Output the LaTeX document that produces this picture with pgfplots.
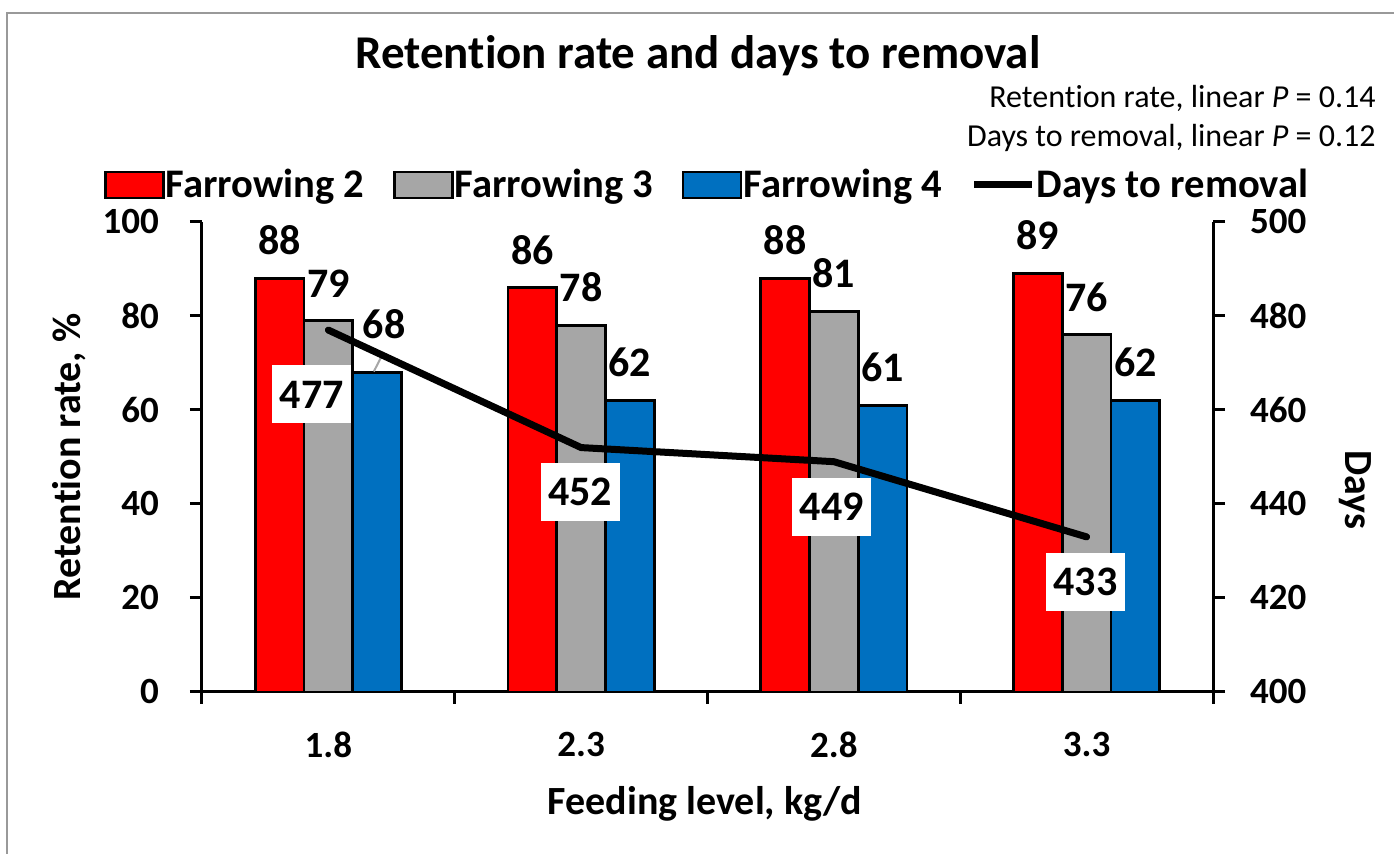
\documentclass[border=0pt]{standalone}
\usepackage{fontspec}
\setmainfont{Carlito}[Ligatures=NoCommon]
\usepackage{pgfplots}
\pgfplotsset{compat=1.18}
\usepackage{pgfplotstable}

\pgfplotstableread{
x f2 f3 f4 dxf dyf
0 88 79 68 3.5 5
1 86 78 62 0 0
2 88 81 61 0 0
3 89 76 62 0 0
}\retention

\pgfplotstableread{
x days dx dy
0 477 -8.3 -32.2
1 452 -0.5 -22
2 449 -1 -22.5
3 433 -0.5 -22.5
}\daystab

\definecolor{fred}{HTML}{FF0000}
\definecolor{fgray}{HTML}{A6A6A6}
\definecolor{fblue}{HTML}{0070C0}

\newcommand{\tfont}{\bfseries\fontsize{18.5}{22}\selectfont}
\newcommand{\dfont}{\bfseries\fontsize{21}{25}\selectfont}
\newcommand{\lfont}{\bfseries\fontsize{20.3}{24}\selectfont}

\pgfplotsset{
  barlegend/.style={legend image code/.code={\draw[##1, line width=1.4pt] (0pt,-6.5pt) rectangle (29pt,6.5pt);}},
  linelegend/.style={legend image code/.code={\draw[##1] (0pt,0pt) -- (29pt,0pt);}},
  common/.style={
    at={(101pt,81pt)}, anchor=south west, scale only axis,
    width=505.5pt, height=235pt,
    xmin=-0.5, xmax=3.5,
    axis line style={-, line width=1.5pt},
    tick align=outside, tick style={black, line width=1.5pt},
    major tick length=6pt,
    ticklabel style={font=\tfont},
    /pgf/number format/assume math mode=true,
  },
}

\begin{document}
\begin{tikzpicture}
\useasboundingbox (0,0) rectangle (697pt,427pt);
\draw[black!40, line width=1pt] (3.5pt,-5pt) -- (3.5pt,420.5pt) -- (705pt,420.5pt);

\begin{axis}[common,
  ymin=0, ymax=100,
  axis x line*=bottom, axis y line*=left,
  ybar=0pt, bar width=0.193,
  xtick={-0.5,0.5,1.5,2.5,3.5}, xticklabel={\phantom{0}},
  extra x ticks={0,1,2,3}, extra x tick labels={1.8,2.3,2.8,3.3},
  extra x tick style={major tick length=0pt, xticklabel style={yshift=-16.5pt}},
  ytick={0,20,...,100},
  yticklabel style={xshift=-12pt},
  nodes near coords, point meta=explicit symbolic,
  every node near coord/.append style={font=\dfont, text=black, inner sep=0pt, anchor=south, yshift=11pt},
  legend style={at={(-0.0975,1.0787)}, anchor=west, draw=none, fill=none,
    legend columns=4, font=\lfont, inner sep=0pt,
    /tikz/every even column/.append style={column sep=13.5pt},
    nodes={inner xsep=0.6pt, inner ysep=1pt}},
  legend cell align=left,
]
\addplot[fill=fred, draw=black, line width=1.4pt, barlegend] table[x=x,y=f2,meta=f2]{\retention};
\addlegendentry{Farrowing 2}
\addplot[fill=fgray, draw=black, line width=1.4pt, barlegend] table[x=x,y=f3,meta=f3]{\retention};
\addlegendentry{Farrowing 3}
\addplot[fill=fblue, draw=black, line width=1.4pt, barlegend,
  visualization depends on={\thisrow{dxf}\as\dxf},
  visualization depends on={\thisrow{dyf}\as\dyf},
  every node near coord/.append style={xshift=\dxf pt, yshift=\dyf pt}] table[x=x,y=f4,meta=f4]{\retention};
\addlegendentry{Farrowing 4}
\addlegendimage{black, line width=3.5pt, linelegend}
\addlegendentry{Days to removal}
\draw[black!35, line width=1pt] (axis cs:0.18,68.2) -- (axis cs:0.215,71.9);
\end{axis}

\begin{axis}[common,
  ymin=400, ymax=500,
  axis y line*=right, axis x line=none,
  ytick={400,420,...,500},
  yticklabel style={xshift=9pt},
  clip=false,
]
\addplot[black, line width=3.5pt, line join=round, line cap=round, mark=none,
  nodes near coords, point meta=explicit symbolic,
  visualization depends on={\thisrow{dx}\as\dxl},
  visualization depends on={\thisrow{dy}\as\dyl},
  every node near coord/.append style={anchor=center, fill=white, text=black, font=\dfont,
    minimum width=39.5pt, minimum height=29pt, inner sep=0pt, xshift=\dxl pt, yshift=\dyl pt}]
  table[x=x,y=days,meta=days]{\daystab};
\end{axis}

\node[font=\bfseries\fontsize{23.5}{28}\selectfont] at (349pt,399pt) {Retention rate and days to removal};
\node[anchor=base east, inner sep=0pt, font=\fontsize{16}{19}\selectfont] at (688pt,373pt) {Retention rate, linear \textit{P} = 0.14};
\node[anchor=base east, inner sep=0pt, font=\fontsize{16}{19}\selectfont] at (688pt,353.5pt) {Days to removal, linear \textit{P} = 0.12};
\node[rotate=90, font=\bfseries\fontsize{20}{24}\selectfont] at (34.5pt,198.5pt) {Retention rate, \%};
\node[rotate=-90, font=\bfseries\fontsize{20}{24}\selectfont] at (677.5pt,182pt) {Days};
\node[anchor=base, font=\bfseries\fontsize{20}{24}\selectfont] at (352.5pt,19.5pt) {Feeding level, kg/d};
\end{tikzpicture}
\end{document}
